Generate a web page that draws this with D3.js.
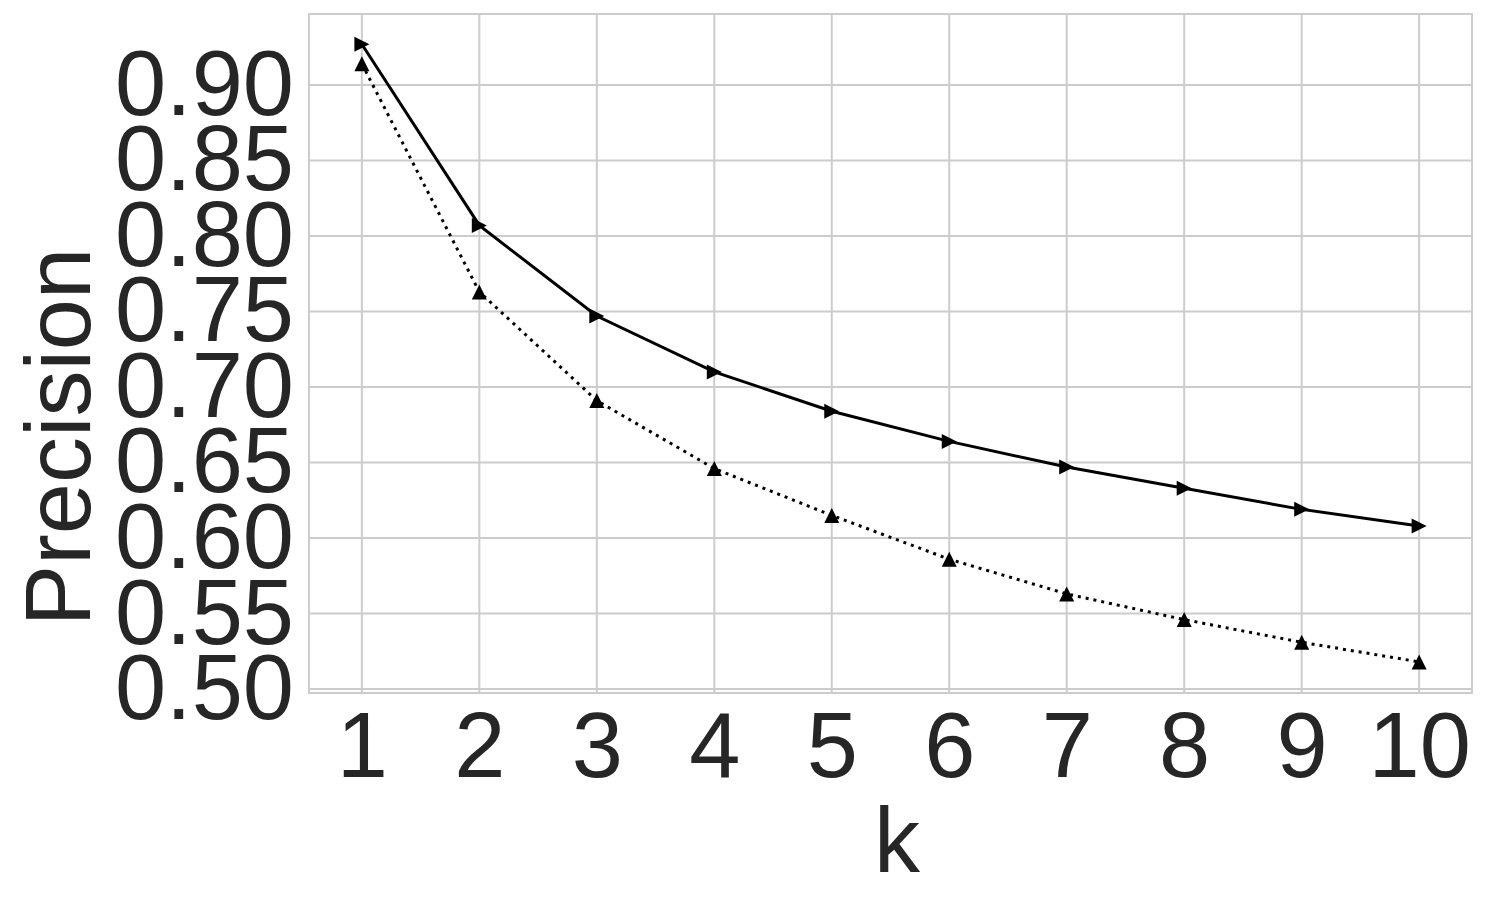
<!DOCTYPE html>
<html>
<head>
<meta charset="utf-8">
<script src="https://cdn.jsdelivr.net/npm/d3@7"></script>
<style>
  body { margin: 0; background: #fff; }
  svg text { font-family: "Liberation Sans", Arial, sans-serif; fill: #262626; }
</style>
</head>
<body>
<svg class="chartSvg" width="1486" height="906"></svg>
<script>
// data
var kValues = [1, 2, 3, 4, 5, 6, 7, 8, 9, 10];
var solidSeries = [0.927, 0.807, 0.747, 0.710, 0.684, 0.664, 0.647, 0.633, 0.619, 0.608];
var dottedSeries = [0.914, 0.763, 0.691, 0.646, 0.615, 0.586, 0.563, 0.546, 0.531, 0.518];
var yTicks = [0.50, 0.55, 0.60, 0.65, 0.70, 0.75, 0.80, 0.85, 0.90];

var margin = {top: 14, right: 14, bottom: 213, left: 309},
    width = 1486 - margin.left - margin.right,
    height = 906 - margin.top - margin.bottom;

var svg = d3.select(".chartSvg")
    .append("g")
    .attr("transform", "translate(" + margin.left + "," + margin.top + ")");

var x = d3.scaleLinear().domain([0.55, 10.45]).range([0, width]);
var y = d3.scaleLinear().domain([0.4974, 0.947]).range([height, 0]);

// grid
svg.append("g").selectAll("line.vgrid")
    .data(kValues)
    .enter().append("line")
    .attr("x1", function(d) { return x(d); })
    .attr("x2", function(d) { return x(d); })
    .attr("y1", 0).attr("y2", height)
    .attr("stroke", "#cccccc").attr("stroke-width", 2);

svg.append("g").selectAll("line.hgrid")
    .data(yTicks)
    .enter().append("line")
    .attr("y1", function(d) { return y(d); })
    .attr("y2", function(d) { return y(d); })
    .attr("x1", 0).attr("x2", width)
    .attr("stroke", "#cccccc").attr("stroke-width", 2);

svg.append("rect")
    .attr("width", width).attr("height", height)
    .attr("fill", "none").attr("stroke", "#cccccc").attr("stroke-width", 2);

// axes (labels only)
var xAxis = d3.axisBottom(x).tickValues(kValues).tickSize(0).tickPadding(19)
    .tickFormat(d3.format("d"));
var yAxis = d3.axisLeft(y).tickValues(yTicks).tickSize(0).tickPadding(15)
    .tickFormat(d3.format(".2f"));

svg.append("g")
    .attr("class", "x axis")
    .attr("transform", "translate(0," + height + ")")
    .call(xAxis)
    .call(function(g) { g.select(".domain").remove(); })
    .selectAll("text").style("font-size", "92px").attr("fill", "#262626");

svg.append("g")
    .attr("class", "y axis")
    .call(yAxis)
    .call(function(g) { g.select(".domain").remove(); })
    .selectAll("text").style("font-size", "92px").attr("fill", "#262626");

// axis titles
d3.select(".chartSvg").append("text")
    .attr("transform", "translate(90,437) rotate(-90)")
    .style("text-anchor", "middle")
    .style("font-size", "92px")
    .text("Precision");

d3.select(".chartSvg").append("text")
    .attr("x", 897).attr("y", 872)
    .style("text-anchor", "middle")
    .style("font-size", "92px")
    .text("k");

// lines + markers
var line = d3.line()
    .x(function(d) { return x(d.k); })
    .y(function(d) { return y(d.v); });

var triangle = {
    draw: function(ctx, size) {
        var r = Math.sqrt(size) / 2;
        ctx.moveTo(0, -r);
        ctx.lineTo(r, r);
        ctx.lineTo(-r, r);
        ctx.closePath();
    }
};
var marker = d3.symbol().type(triangle).size(225);

var series = [
    {values: solidSeries, dash: null, rotate: 90},
    {values: dottedSeries, dash: "3,4.95", rotate: 0}
];

series.forEach(function(s) {
    var pts = kValues.map(function(k, i) { return {k: k, v: s.values[i]}; });
    svg.append("path")
        .datum(pts)
        .attr("fill", "none")
        .attr("stroke", "#000")
        .attr("stroke-width", 3)
        .attr("stroke-dasharray", s.dash)
        .attr("d", line);
    svg.selectAll(null)
        .data(pts)
        .enter().append("path")
        .attr("d", marker)
        .attr("fill", "#000")
        .attr("transform", function(d) {
            return "translate(" + x(d.k) + "," + y(d.v) + ") rotate(" + s.rotate + ")";
        });
});
</script>
</body>
</html>
